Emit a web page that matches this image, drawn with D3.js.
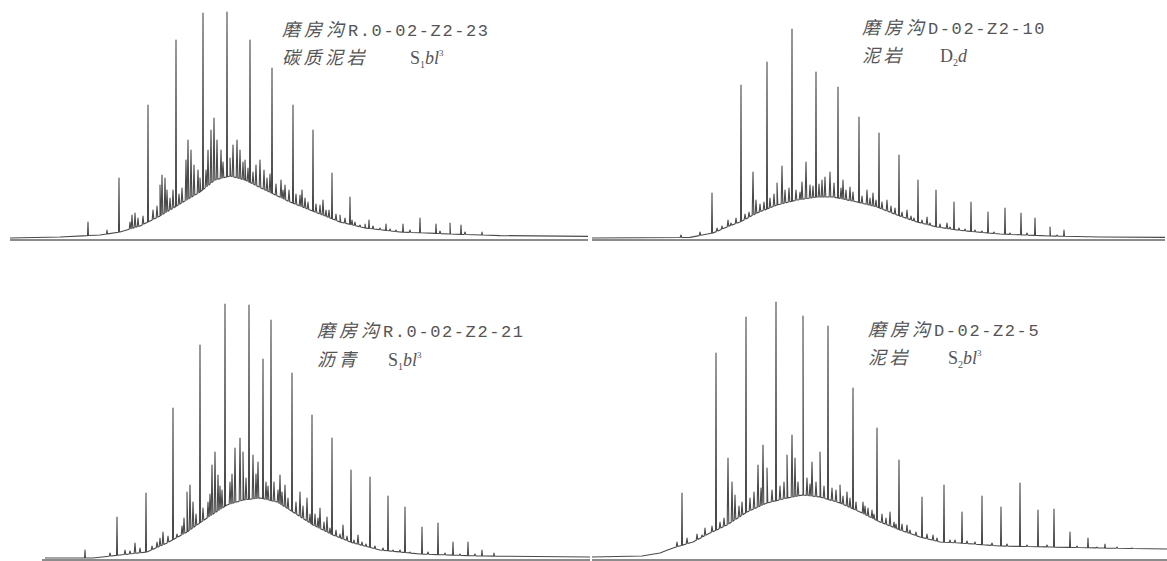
<!DOCTYPE html>
<html>
<head>
<meta charset="utf-8">
<script src="https://cdn.jsdelivr.net/npm/d3@7"></script>
<style>
  body { margin: 0; background: #fff; }
  svg { display: block; }
</style>
</head>
<body>
<svg id="chart"></svg>
<script>
// retention time (min) vs detector signal
// hump = unresolved baseline, peaks = n-alkane spikes, minor = small spikes on the hump

const tlHump = [[0,0],[5,0.5],[9,1.5],[11,3],[13,6],[15,11],[17,17],[19,23],[20.5,29],[22,31],[23.5,29],[25.5,24],[28,18],[30.5,13],[33,8],[35.5,5],[39,3],[44,2],[49,1.2],[57.8,0.8]];
const tlPeaks = [[7.8,8],[9.7,4],[10.9,30],[13.8,66.5],[16.6,99],[19.3,112.5],[21.7,113],[24.0,99],[26.2,85],[28.3,66.5],[30.3,54],[32.2,32.5],[34.0,20.5],[35.9,9],[37.6,7],[39.3,7],[41.0,10],[42.6,7],[44.0,7.5],[45.1,6.5],[47.2,3]];
const tlMinor = [[12.0,8],[12.2,11.5],[12.5,12.5],[12.8,10],[13.3,11],[14.3,14],[14.7,16],[15.0,26.5],[15.2,31.5],[15.5,30],[15.7,24],[16.0,20],[16.3,24],[16.9,22],[17.2,25],[17.6,39],[17.8,49],[18.1,44],[18.4,36.5],[18.8,34],[19.0,30],[19.6,34],[19.8,44],[20.1,54],[20.4,60],[20.7,49],[21.1,44],[21.3,38],[22.0,40],[22.3,46.5],[22.7,49],[23.0,44],[23.3,38],[23.5,39],[23.8,35],[24.3,33],[24.6,36.5],[25.0,39],[25.4,34],[25.7,30],[26.0,32],[26.6,27],[27.1,29],[27.3,24],[27.5,26.5],[27.9,24],[28.6,22],[29.0,21.5],[29.2,24],[29.5,20],[29.8,18],[30.6,17],[31.0,16.5],[31.3,19],[31.6,14],[31.9,14],[32.6,12],[33.0,11.5],[33.5,10],[34.2,9],[34.5,8],[35.0,6.5],[35.5,7],[36.3,6],[37.0,5],[38.0,4.5],[38.6,4],[40.0,4],[43.0,3.5],[45.5,3]];

const trHump = [[0,0],[9.8,0.3],[12.1,2.5],[13.5,5.5],[14.8,8],[16.5,12.5],[18.5,16.5],[20.5,19],[22.5,20.5],[24.1,20.5],[26.5,18],[28.5,15.5],[30.5,11.5],[32.5,8],[34.5,5.5],[36.5,4],[38.5,3],[40.8,2],[45.8,1],[50.8,0.5],[57.3,0.3]];
const trPeaks = [[12.0,22.5],[14.9,76.5],[17.5,88],[20.0,104.5],[22.4,83],[24.6,75.5],[26.7,60.5],[28.7,52.5],[30.7,41.5],[32.6,29],[34.4,24],[36.2,18],[37.9,18],[39.6,13],[41.3,15],[42.9,12.5],[44.3,10],[45.8,5.5],[47.2,4]];
const trMinor = [[8.9,1.5],[10.8,3],[12.5,5],[13.0,6],[13.6,9],[13.9,7.5],[14.4,10],[15.3,12],[15.7,13],[16.1,33],[16.4,19],[16.8,17],[17.2,18],[17.8,20],[18.2,22],[18.5,27.5],[19.0,36],[19.3,24],[19.7,25],[20.4,24],[20.8,23],[21.0,28],[21.4,38],[21.8,26.5],[22.1,26],[22.7,27],[23.0,29],[23.3,30.5],[23.8,33],[24.2,27.5],[24.9,25],[25.1,29],[25.4,24],[25.8,25.5],[26.1,23],[27.0,21],[27.5,24],[27.8,20],[28.1,22.5],[28.4,19],[29.0,18],[29.5,19],[29.9,16],[30.3,15],[31.0,13],[31.5,14],[31.9,11],[32.2,10],[33.0,9],[33.5,10.5],[33.8,7.5],[34.8,7],[35.5,7.5],[35.8,5.5],[36.7,5],[37.3,4.5],[38.3,4],[39.0,3.5],[40.2,3],[41.8,2.5],[43.5,2.5],[46.5,1.5]];

const blHump = [[3.5,0],[8.3,0],[11,1.5],[13.7,3],[15.7,7.5],[17.7,13],[19.7,20],[21.7,26.5],[23.3,29],[25,30],[26.7,28],[28.3,23],[30.3,16.5],[32.3,11.5],[34.3,7.5],[37,4],[41,2],[47,1],[58,0.5]];
const blPeaks = [[7.5,4],[10.7,20.5],[13.6,32.5],[16.3,75],[19.0,106.5],[21.5,127],[23.9,126.5],[25.3,99.5],[26.1,119],[28.2,92.5],[30.2,71.5],[32.2,60],[34.1,44],[36.0,40.5],[37.8,31],[39.5,25.5],[41.2,15.5],[42.8,17.5],[44.3,8],[45.8,8],[47.2,4],[48.4,2.5]];
const blMinor = [[10.0,2.5],[11.5,4],[12.0,3.5],[12.5,7.5],[13.0,5],[14.2,6],[14.7,8],[15.0,10],[15.3,13],[15.8,11],[16.7,12],[17.2,16],[17.4,20],[17.7,33],[18.0,36.5],[18.3,28],[18.6,22],[19.3,25],[19.8,28],[20.0,32],[20.2,46.5],[20.5,53],[20.8,41.5],[21.0,36],[21.2,34],[22.0,38],[22.2,42],[22.5,55],[23.0,60],[23.3,53],[23.6,40],[24.3,51.5],[24.6,42],[24.8,48],[25.6,38],[25.8,36],[26.4,38],[26.8,34],[27.0,41.5],[27.2,33],[27.5,36.5],[27.8,30],[28.6,28],[29.0,33],[29.3,26],[29.7,30],[30.0,22],[30.5,22],[30.8,20],[31.0,25],[31.4,18],[31.7,20.5],[32.0,15],[32.6,14],[33.0,12],[33.3,16.5],[33.7,11],[34.4,9],[34.8,11.5],[35.2,8],[35.6,7],[36.5,6],[37.3,5],[38.3,4],[39.0,4],[40.0,3],[41.8,3],[43.5,2.5],[45.0,2],[46.5,2]];

const brHump = [[0,0.5],[5,1],[6.8,2.5],[8.1,5],[10.1,8],[11.8,12.5],[13.5,16.5],[15.5,23],[17.5,27.5],[19.5,30],[21.1,31.5],[22.8,30.5],[24.8,27.5],[26.8,23],[28.8,18],[30.8,14],[32.8,10.5],[34.8,8],[36.8,7.5],[40.8,6],[50.8,5],[57.5,4.5]];
const brPeaks = [[7.8,4],[9.0,32.5],[12.4,102.5],[15.4,120.5],[18.4,128],[21.1,121],[23.6,116],[26.1,85],[28.5,65],[30.7,49],[33.0,30.5],[35.2,36.5],[37.0,23],[39.0,31],[40.9,25.5],[42.8,37.5],[44.6,24],[46.2,24.5],[47.8,13],[49.6,10],[51.3,7]];
const brMinor = [[8.5,8],[9.5,10],[10.5,12],[11.0,11.5],[11.3,15],[12.0,16],[12.8,18],[13.2,20],[13.6,50],[14.0,38],[14.3,31.5],[14.7,26],[15.0,28],[15.8,30],[16.2,33],[16.6,46.5],[16.9,35],[17.1,56.5],[17.5,45],[18.0,34],[18.8,36],[19.2,38],[19.5,51.5],[20.0,61.5],[20.3,50],[20.6,38],[21.5,40],[21.8,37],[22.0,48],[22.4,38],[22.8,53],[23.2,36],[24.0,35],[24.4,34],[24.8,36.5],[25.1,31],[25.5,33],[25.8,30],[26.4,28],[27.1,28],[27.3,26],[27.6,25],[28.0,24],[28.2,22],[29.0,22],[29.4,20],[29.8,23],[30.2,18],[30.4,17],[31.0,17],[31.5,16.5],[31.8,14],[32.4,13],[33.5,12],[34.1,11.5],[34.5,10],[35.8,9],[36.3,9],[37.5,8.5],[38.3,8],[40.0,7.5],[41.5,7],[43.5,6.5],[45.5,6.5],[48.5,6],[50.5,5.5],[52.5,5.5],[54,5]];

// sample labels: locality, sample code, lithology, stratum [symbol, sub, italic part, sup]
const sampleNames = ["磨房沟", "磨房沟", "磨房沟", "磨房沟"];
const sampleCodes = ["R.0-02-Z2-23", "D-02-Z2-10", "R.0-02-Z2-21", "D-02-Z2-5"];
const lithologies = ["碳质泥岩", "泥岩", "沥青", "泥岩"];
const strata = [["S","1","bl","3"], ["D","2","d",""], ["S","1","bl","3"], ["S","2","bl","3"]];

const W = 1167, H = 561;
const svg = d3.select("#chart").attr("width", W).attr("height", H);

const panels = [
  { hump: tlHump, peaks: tlPeaks, minor: tlMinor, x0: 10,  tMax: 57.8, base: 238, top: 0,   axis: [0, 57.8], lab: [282, 36, 64, 410] },
  { hump: trHump, peaks: trPeaks, minor: trMinor, x0: 592, tMax: 57.5, base: 238, top: 0,   axis: [0, 57.3], lab: [862, 34, 62, 940] },
  { hump: blHump, peaks: blPeaks, minor: blMinor, x0: 10,  tMax: 58,   base: 558, top: 280, axis: [3.2, 58],  lab: [317, 337, 366, 388] },
  { hump: brHump, peaks: brPeaks, minor: brMinor, x0: 592, tMax: 57.5, base: 558, top: 280, axis: [0, 57.5], lab: [868, 336, 364, 948] }
];

const cjk = "'Noto Sans CJK SC', sans-serif";
const mono = "'Liberation Mono', 'DejaVu Sans Mono', monospace";
const serif = "'Liberation Serif', 'DejaVu Serif', serif";

panels.forEach((p, i) => {
  const x = d3.scaleLinear().domain([0, p.tMax]).range([p.x0, p.x0 + p.tMax * 10]);
  const y = d3.scaleLinear().domain([0, (p.base - p.top) / 2]).range([p.base, p.top]);
  const hump = d3.scaleLinear()
    .domain(p.hump.map(d => d[0]))
    .range(p.hump.map(d => d[1]))
    .clamp(true);

  // assemble the trace: hump plus narrow spikes
  const pts = p.hump.slice();
  const spike = (w) => ([t, v]) => {
    pts.push([t - w, hump(t - w)], [t, Math.max(v, hump(t))], [t + w, hump(t + w)]);
  };
  p.peaks.forEach(spike(0.05));
  p.minor.forEach(spike(0.08));
  pts.sort((a, b) => a[0] - b[0]);

  const g = svg.append("g");

  g.append("line")
    .attr("x1", x(p.axis[0])).attr("x2", x(p.axis[1]))
    .attr("y1", p.base + 2).attr("y2", p.base + 2)
    .attr("stroke", "#8c8c8c")
    .attr("stroke-width", 2);

  g.append("path")
    .datum(pts)
    .attr("fill", "none")
    .attr("stroke", "#4a4a4a")
    .attr("stroke-width", 1.1)
    .attr("stroke-linejoin", "round")
    .attr("d", d3.line().x(d => x(d[0])).y(d => y(d[1])));

  const [lx, ly1, ly2, ux] = p.lab;
  const t1 = g.append("text").attr("x", lx).attr("y", ly1).attr("fill", "#555");
  t1.append("tspan").text(sampleNames[i])
    .attr("font-family", cjk).attr("font-size", 18).attr("letter-spacing", 4).attr("font-style", "italic");
  t1.append("tspan").text(sampleCodes[i])
    .attr("font-family", mono).attr("font-size", 17).attr("letter-spacing", 1.6);

  g.append("text").attr("x", lx).attr("y", ly2).attr("fill", "#555")
    .attr("font-family", cjk).attr("font-size", 18).attr("letter-spacing", 3.5).attr("font-style", "italic")
    .text(lithologies[i]);

  const [sym, sub, ital, sup] = strata[i];
  const t2 = g.append("text").attr("x", ux).attr("y", ly2).attr("fill", "#555")
    .attr("font-family", serif).attr("font-size", 18);
  t2.append("tspan").text(sym);
  t2.append("tspan").text(sub).attr("font-size", 10).attr("dy", 4);
  t2.append("tspan").text(ital).attr("font-style", "italic").attr("dy", -4);
  if (sup) t2.append("tspan").text(sup).attr("font-size", 9).attr("dy", -8);
});
</script>
</body>
</html>
